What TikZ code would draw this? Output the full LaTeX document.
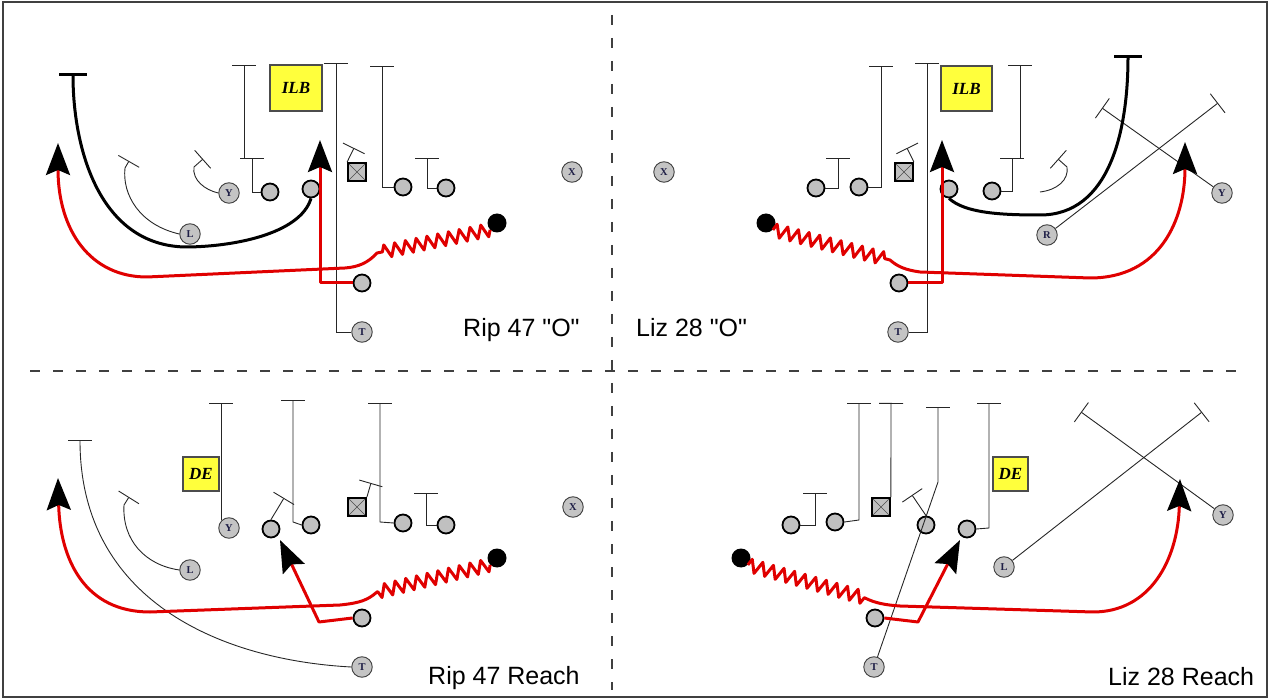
\documentclass[tikz,border=0pt]{standalone}
\usepackage{fontspec}
\setmainfont{Liberation Sans}
\newfontfamily\capfont{Liberation Sans}[Ligatures=TeXOff]
\newfontfamily\serifx{Liberation Serif}
\usetikzlibrary{arrows.meta,decorations.pathmorphing}
\definecolor{olgray}{RGB}{192,192,192}
\definecolor{labgray}{RGB}{196,196,196}
\definecolor{labtext}{RGB}{30,30,70}
\definecolor{tagyellow}{RGB}{255,255,60}
\definecolor{redc}{RGB}{224,0,0}
\definecolor{framec}{RGB}{64,64,64}
\begin{document}
\begin{tikzpicture}[x=1pt,y=-1pt,
  ol/.style={circle, draw=black, line width=1.8pt, fill=olgray, minimum size=17pt, inner sep=0pt},
  lab/.style={circle, draw=gray!50!black, line width=0.9pt, fill=labgray, minimum size=20.5pt, inner sep=0pt, font=\serifx\bfseries\fontsize{10.5}{10.5}\selectfont, text=labtext},
  ballst/.style={circle, fill=black, minimum size=19pt, inner sep=0pt},
  ctr/.style={rectangle, draw=black, line width=1.8pt, fill=olgray, minimum size=18pt, inner sep=0pt,
    path picture={\draw[line width=0.6pt, black!70] (path picture bounding box.north west) -- (path picture bounding box.south east) (path picture bounding box.north east) -- (path picture bounding box.south west);}},
  tag/.style={rectangle, draw=gray!60!black, line width=1.2pt, fill=tagyellow, inner sep=0pt, font=\serifx\itshape\bfseries\fontsize{17}{17}\selectfont},
  caption/.style={anchor=base west, inner sep=0pt, font=\capfont\fontsize{25}{25}\selectfont},
  rt/.style={draw=black!85, line width=0.9pt, -{Bar[width=24pt]}},
  rtk/.style={draw=black, line width=3pt, -{Bar[width=28pt]}},
  redrt/.style={draw=redc, line width=3pt, line join=round, -{Stealth[length=32pt,width=24pt,inset=5pt,color=black]}},
  zz/.style={decoration={zigzag,segment length=11pt,amplitude=6.5pt}},
  dashline/.style={draw=framec, line width=1.2pt, dash pattern=on 10pt off 13pt}
]
\useasboundingbox (0,0) rectangle (1270,700);
\draw[framec, line width=2pt] (3,2) rectangle (1267,697);
\draw[dashline] (612,15) -- (612,690);
\draw[dashline] (30,371) -- (1238,371);

% ---------- Top left ----------
\node[ol] (a1) at (270,192) {};
\node[ol] (a2) at (311,189) {};
\node[ctr] (a3) at (357,172) {};
\node[ol] (a4) at (403,187) {};
\node[ol] (a5) at (446,188) {};
\node[ol] (a6) at (362,283) {};
\node[ballst] (ab) at (497,223) {};
\node[lab] (aY) at (229,193) {Y};
\node[lab] (aL) at (190,234) {L};
\node[lab] (aX) at (572,172) {X};
\node[lab] (aT) at (362,332) {T};
\node[tag, minimum width=52pt, minimum height=46pt] (aI) at (296,88) {ILB};
\node[caption] (acap) at (463,337) {Rip 47 "O"};

\draw[rt] (a1.west) -- (252,192) -- (252,158);
\draw[rt] (244,158) -- (244,65);
\draw[rt] (aY.west) .. controls (205,190) and (192,180) .. (194,167) -- (203,159);
\draw[rt] (aL.west) .. controls (140,225) and (122,195) .. (125,168) -- (129,161);
\draw[rt] (aT.west) -- (336,332) -- (336,63);
\draw[rt] (a4.west) -- (382,187) -- (382,66);
\draw[rt] (a5.west) -- (427,188) -- (427,158);
\draw[rt] (a3.north west) -- (354,148);
\draw[rtk] (a2.south) .. controls (300,235) and (230,247) .. (185,247) .. controls (100,245) and (73,150) .. (73,73);
\draw[redrt] (a6.west) -- (320,283) -- (320,140);
\draw[redrt] (ab.south west) decorate[zz]{-- (377,253)} .. controls (368,263) and (358,267) .. (345,268) -- (147,277) .. controls (90,277) and (58,230) .. (58,143);

% ---------- Top right ----------
\node[ol] (b1) at (816,188) {};
\node[ol] (b2) at (859,187) {};
\node[ctr] (b3) at (904,172) {};
\node[ol] (b4) at (949,189) {};
\node[ol] (b5) at (992,191) {};
\node[ol] (b6) at (899,283) {};
\node[ballst] (bb) at (766,223) {};
\node[lab] (bX) at (664,172) {X};
\node[lab] (bT) at (898,332) {T};
\node[lab] (bR) at (1047,235) {R};
\node[lab] (bY) at (1222,193) {Y};
\node[tag, minimum width=51pt, minimum height=45pt] (bI) at (966.5,88.5) {ILB};
\node[caption] (bcap) at (636,337) {Liz 28 "O"};

\draw[rt] (b1.east) -- (838,188) -- (838,158);
\draw[rt] (b2.east) -- (881,187) -- (881,66);
\draw[rt] (bT.east) -- (927,332) -- (927,63);
\draw[rt] (b3.north east) -- (907,148);
\draw[rt] (b5.east) -- (1012,191) -- (1012,158);
\draw[rt] (1020,158) -- (1020,65);
\coordinate (bq) at (1040,192);
\draw[rt] (bq) .. controls (1057,190) and (1069,180) .. (1067,167) -- (1058,159);
\draw[rt] (bR) -- (1218,103);
\draw[rt] (bY) -- (1102,108);
\draw[rtk] (b4.south) .. controls (965,213) and (1000,215) .. (1040,215) .. controls (1110,215) and (1128,130) .. (1128,55);
\draw[redrt] (b6.east) -- (942,283) -- (942,140);
\draw[redrt] (bb.south east) decorate[zz]{-- (890,260)} .. controls (898,267) and (906,270) .. (920,272) -- (1090,278) .. controls (1160,278) and (1185,220) .. (1185,142);

% ---------- Bottom left ----------
\node[ol] (c1) at (271,529) {};
\node[ol] (c2) at (311,525) {};
\node[ctr] (c3) at (357,507) {};
\node[ol] (c4) at (403,523) {};
\node[ol] (c5) at (446,525) {};
\node[ol] (c6) at (362,618) {};
\node[ballst] (cb) at (497,558) {};
\node[lab] (cX) at (573,507) {X};
\node[lab] (cY) at (229,528) {Y};
\node[lab] (cL) at (190,570) {L};
\node[lab] (cT) at (362,667) {T};
\node[tag, minimum width=36pt, minimum height=34pt] (cD) at (201,474) {DE};
\node[caption] (ccap) at (428,684) {Rip 47 Reach};

\draw[rt] (cY.north west) -- ++(0,-117);
\draw[rt] (cL.west) .. controls (145,565) and (122,540) .. (124,505) -- (129,497);
\draw[rt] (cT.west) .. controls (220,660) and (80,600) .. (80,440);
\draw[rt] (c2.west) -- (293,522) -- (293,400);
\draw[rt] (c1.north) -- (284,498);
\draw[rt] (c4.west) -- (380,522) -- (380,403);
\draw[rt] (c3.north east) -- (371,483);
\draw[rt] (c5.west) -- (426,525) -- (426,493);
\draw[redrt] (c6.west) -- (319,622) -- (280,540);
\draw[redrt] (cb.south west) decorate[zz]{-- (377,592)} .. controls (368,600) and (360,603) .. (340,605) -- (150,612) .. controls (85,612) and (60,560) .. (58,478);

% ---------- Bottom right ----------
\node[ol] (d1) at (791,525) {};
\node[ol] (d2) at (835,522) {};
\node[ctr] (d3) at (881,507) {};
\node[ol] (d4) at (926,525) {};
\node[ol] (d5) at (967,529) {};
\node[ol] (d6) at (875,618) {};
\node[ballst] (db) at (741,558) {};
\node[lab] (dT) at (874,667) {T};
\node[lab] (dL) at (1004,567) {L};
\node[lab] (dY) at (1223,515) {Y};
\node[tag, minimum width=35pt, minimum height=34pt] (dD) at (1010.5,474) {DE};
\node[caption] (dcap) at (1108,685) {Liz 28 Reach};

\draw[rt] (d1.east) -- (815,525) -- (815,493);
\draw[rt] (d2.east) -- (859,520) -- (859,403);
\draw[rt] (d3.north east) -- (891,403);
\draw[rt] (dT) -- (938,482) -- (938,407);
\draw[rt] (d4.north) -- (912,495);
\draw[rt] (d5.east) -- (989,528) -- (989,403);
\draw[rt] (dL) -- (1202,412);
\draw[rt] (dY) -- (1081,412);
\draw[redrt] (d6.east) -- (918,622) -- (960,540);
\draw[redrt] (db.south east) decorate[zz]{-- (865,598)} .. controls (875,603) and (885,605) .. (900,606) -- (1093,612) .. controls (1150,612) and (1178,560) .. (1180,479);
\end{tikzpicture}
\end{document}
